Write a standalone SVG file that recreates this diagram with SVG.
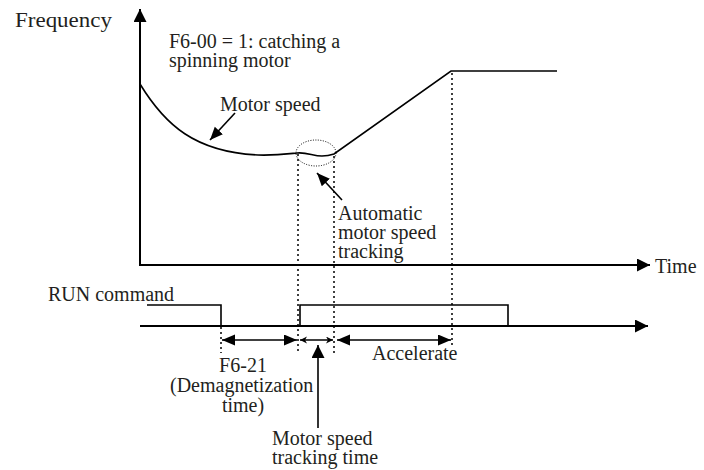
<svg xmlns="http://www.w3.org/2000/svg" width="704" height="470" viewBox="0 0 704 470">
<style>
text{font-family:"Liberation Serif","Times New Roman",serif;font-size:20px;fill:#231f20}
.ax{stroke:#000;stroke-width:2;fill:none}
.ln{stroke:#000;stroke-width:1.6;fill:none}
.dot{stroke:#000;stroke-width:1.5;stroke-dasharray:2,3;fill:none}
.fine{stroke:#000;stroke-width:1;stroke-dasharray:1,1.5;fill:none}
</style>
<defs>
<marker id="big" markerUnits="userSpaceOnUse" markerWidth="14" markerHeight="14" refX="13" refY="6.5" orient="auto-start-reverse"><path d="M0,0 L13,6.5 L0,13 z" fill="#000"/></marker>
<marker id="mid" markerUnits="userSpaceOnUse" markerWidth="14" markerHeight="12" refX="13" refY="5.5" orient="auto-start-reverse"><path d="M0,0 L13,5.5 L0,11 z" fill="#000"/></marker>
<marker id="sm" markerUnits="userSpaceOnUse" markerWidth="8" markerHeight="8" refX="7" refY="3.5" orient="auto-start-reverse"><path d="M0,0 L7,3.5 L0,7 L2,3.5 z" fill="#000"/></marker>
</defs>
<rect width="704" height="470" fill="#fff"/>
<g id="axes">
<line class="ax" x1="140" y1="265" x2="140" y2="9" marker-end="url(#big)"/>
<line class="ax" x1="139" y1="265" x2="650" y2="265" marker-end="url(#big)"/>
<text x="15" y="27" textLength="97" lengthAdjust="spacingAndGlyphs">Frequency</text>
<text x="655" y="273">Time</text>
</g>
<g id="motor-curve">
<path class="ln" d="M140,84 C165,125 195,152 258,155 C276,155.5 287,154 297,153 C307,152 313,156 322,156 C328,156 331,155 334,154 L451,71 L557,71"/>
<ellipse class="fine" cx="316" cy="153" rx="20" ry="13"/>
</g>
<g id="title">
<text x="169" y="48">F6-00 = 1: catching a</text>
<text x="169" y="67">spinning motor</text>
</g>
<g id="run-signal">
<text x="48" y="301">RUN command</text>
<path class="ln" d="M147,305 L221,305 L221,326"/>
<path class="ln" d="M300,326 L300,305 L508,305 L508,326"/>
<line class="ax" x1="140" y1="326" x2="648" y2="326" marker-end="url(#big)"/>
</g>
<g id="guides">
<line class="dot" x1="221" y1="327" x2="221" y2="353"/>
<line class="dot" x1="298" y1="154" x2="298" y2="351"/>
<line class="dot" x1="334" y1="156" x2="334" y2="356"/>
<line class="dot" x1="452" y1="73" x2="452" y2="348"/>
</g>
<g id="connectors">
<line class="ln" x1="235" y1="113" x2="210" y2="140" marker-end="url(#mid)"/>
<line class="ln" x1="342" y1="200" x2="317" y2="173" marker-end="url(#mid)"/>
<line class="ln" x1="222" y1="340" x2="297" y2="340" marker-start="url(#mid)" marker-end="url(#mid)"/>
<line class="ln" x1="300" y1="340" x2="333" y2="340" marker-start="url(#sm)" marker-end="url(#sm)"/>
<line class="ln" x1="337" y1="340" x2="451" y2="340" marker-start="url(#mid)" marker-end="url(#mid)"/>
<line class="ln" x1="318" y1="428" x2="318" y2="345" marker-end="url(#big)"/>
</g>
<g id="label-motor-speed"><text x="220" y="111">Motor speed</text></g>
<g id="label-auto">
<text x="338" y="220">Automatic</text>
<text x="338" y="239">motor speed</text>
<text x="338" y="258">tracking</text>
</g>
<g id="label-f621">
<text x="243" y="372" text-anchor="middle">F6-21</text>
<text x="170" y="392">(Demagnetization</text>
<text x="243" y="412" text-anchor="middle">time)</text>
</g>
<g id="label-accel"><text x="372" y="360">Accelerate</text></g>
<g id="label-tracking-time">
<text x="272" y="445">Motor speed</text>
<text x="272" y="464">tracking time</text>
</g>
</svg>
